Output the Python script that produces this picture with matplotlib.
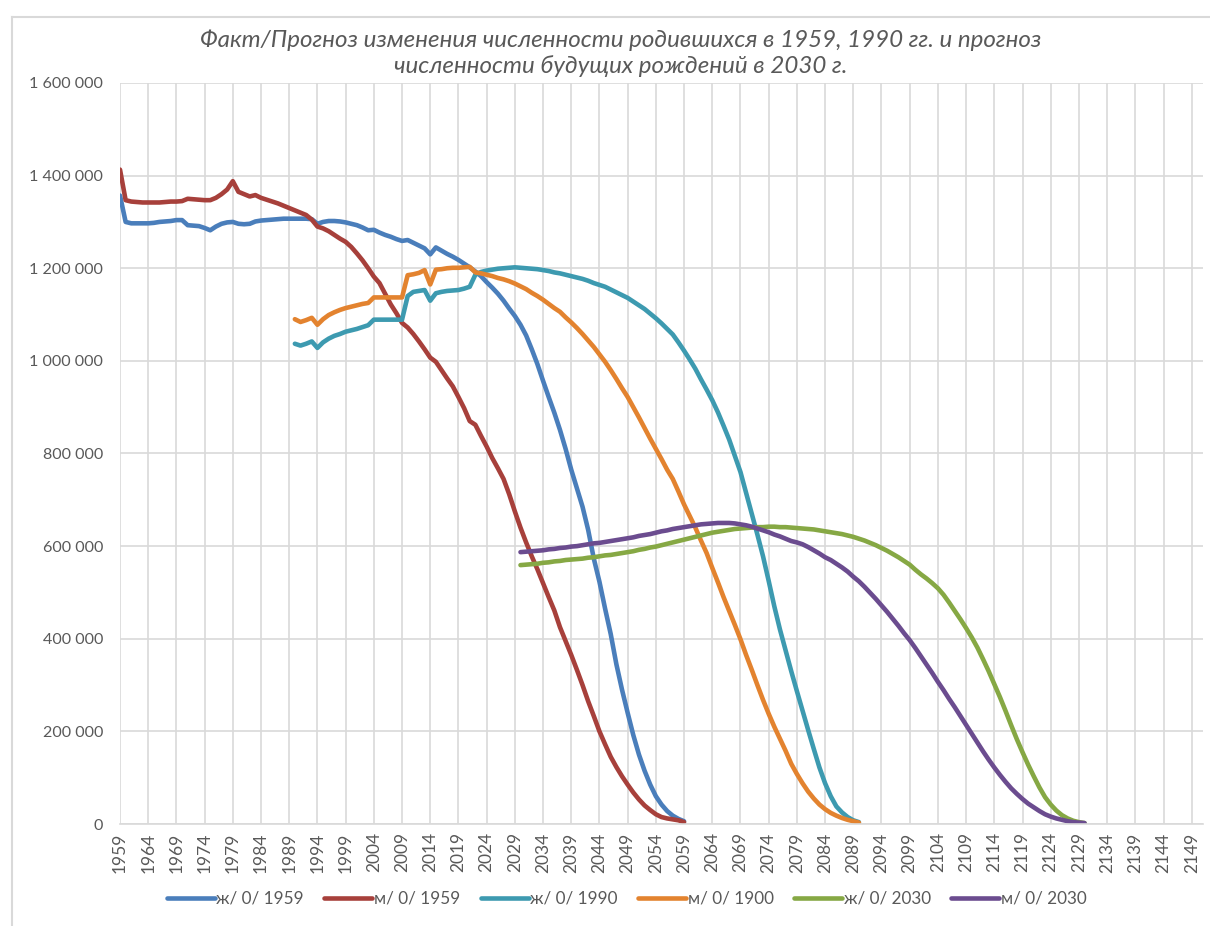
import numpy as np
import matplotlib
matplotlib.use("Agg")
import matplotlib.pyplot as plt
from matplotlib.lines import Line2D
from matplotlib.ticker import FuncFormatter

plt.rcParams['font.family'] = ['Lato', 'DejaVu Sans']

# --- data ---
years_1959 = list(range(1959, 2060))
years_1990 = list(range(1990, 2091))
years_2030 = list(range(2030, 2131))

f_1959 = [1357000, 1300000, 1297000, 1297000, 1297000, 1297000, 1298000, 1300000, 1301000, 1302000,
          1304000, 1304000, 1293000, 1292000, 1291000, 1287000, 1282000, 1290000, 1296000, 1299000,
          1300000, 1296000, 1295000, 1296000, 1301000, 1303000, 1304000, 1305000, 1306000, 1307000,
          1307000, 1307000, 1307000, 1307000, 1306000, 1296000, 1300000, 1302000, 1302000, 1301000,
          1299000, 1296000, 1293000, 1288000, 1282000, 1283000, 1277000, 1272000, 1268000, 1263000,
          1259000, 1261000, 1255000, 1249000, 1243000, 1230000, 1245000, 1238000, 1231000, 1225000,
          1218000, 1210000, 1202000, 1193000, 1183000, 1170000, 1158000, 1145000, 1130000, 1113000,
          1097000, 1078000, 1055000, 1025000, 993000, 957000, 922000, 888000, 851000, 810000,
          765000, 725000, 685000, 635000, 573000, 523000, 465000, 410000, 345000, 290000,
          240000, 192000, 150000, 115000, 85000, 60000, 42000, 28000, 18000, 11000,
          6000]

m_1959 = [1413000, 1347000, 1344000, 1343000, 1342000, 1342000, 1342000, 1342000, 1343000, 1344000,
          1344000, 1345000, 1350000, 1349000, 1348000, 1347000, 1347000, 1352000, 1360000, 1370000,
          1388000, 1365000, 1360000, 1355000, 1358000, 1352000, 1348000, 1344000, 1340000, 1335000,
          1330000, 1325000, 1320000, 1315000, 1305000, 1290000, 1286000, 1280000, 1272000, 1264000,
          1257000, 1246000, 1232000, 1217000, 1200000, 1182000, 1168000, 1145000, 1122000, 1103000,
          1082000, 1072000, 1058000, 1042000, 1025000, 1007000, 998000, 980000, 962000, 945000,
          922000, 898000, 870000, 862000, 838000, 815000, 790000, 768000, 745000, 712000,
          675000, 640000, 608000, 578000, 550000, 520000, 490000, 461000, 425000, 395000,
          365000, 333000, 300000, 265000, 233000, 200000, 172000, 145000, 123000, 103000,
          85000, 68000, 53000, 40000, 30000, 21000, 15000, 12000, 10000, 8000,
          4000]

f_1990 = [1037000, 1033000, 1037000, 1042000, 1028000, 1040000, 1048000, 1054000, 1058000, 1063000,
          1066000, 1069000, 1073000, 1077000, 1089000, 1089000, 1089000, 1089000, 1089000, 1089000,
          1140000, 1149000, 1151000, 1153000, 1130000, 1146000, 1149000, 1151000, 1152000, 1153000,
          1156000, 1160000, 1186000, 1192000, 1195000, 1197000, 1199000, 1200000, 1201000, 1202000,
          1201000, 1200000, 1199000, 1198000, 1196000, 1194000, 1191000, 1189000, 1186000, 1183000,
          1180000, 1177000, 1173000, 1168000, 1164000, 1160000, 1154000, 1148000, 1142000, 1136000,
          1128000, 1120000, 1112000, 1102000, 1092000, 1081000, 1069000, 1057000, 1040000, 1022000,
          1003000, 983000, 960000, 938000, 915000, 889000, 860000, 830000, 795000, 760000,
          715000, 670000, 625000, 578000, 525000, 470000, 420000, 375000, 330000, 287000,
          245000, 203000, 162000, 122000, 88000, 60000, 38000, 25000, 15000, 8000,
          4000]

m_1990 = [1090000, 1084000, 1088000, 1093000, 1078000, 1090000, 1099000, 1105000, 1110000, 1114000,
          1117000, 1120000, 1123000, 1125000, 1137000, 1137000, 1137000, 1137000, 1137000, 1137000,
          1185000, 1187000, 1190000, 1196000, 1165000, 1197000, 1198000, 1200000, 1201000, 1201000,
          1202000, 1203000, 1191000, 1189000, 1186000, 1183000, 1179000, 1176000, 1172000, 1167000,
          1161000, 1155000, 1147000, 1140000, 1132000, 1123000, 1114000, 1106000, 1094000, 1083000,
          1071000, 1058000, 1044000, 1030000, 1014000, 998000, 980000, 961000, 941000, 922000,
          900000, 878000, 855000, 832000, 810000, 788000, 765000, 745000, 718000, 690000,
          665000, 640000, 612000, 585000, 553000, 522000, 490000, 460000, 430000, 399000,
          365000, 333000, 300000, 268000, 238000, 210000, 184000, 158000, 130000, 108000,
          88000, 70000, 55000, 42000, 32000, 24000, 18000, 13000, 9000, 6000,
          3000]

f_2030 = [559000, 560000, 561000, 562000, 564000, 565000, 567000, 568000, 570000, 571000,
          572000, 573000, 575000, 576000, 578000, 580000, 581000, 583000, 585000, 587000,
          589000, 592000, 594000, 597000, 599000, 602000, 605000, 608000, 611000, 614000,
          617000, 620000, 623000, 626000, 629000, 631000, 633000, 635000, 637000, 638000,
          639000, 640000, 641000, 641000, 642000, 642000, 641000, 641000, 640000, 639000,
          638000, 637000, 636000, 634000, 632000, 630000, 628000, 626000, 623000, 620000,
          616000, 612000, 607000, 602000, 596000, 590000, 583000, 576000, 568000, 560000,
          549000, 539000, 530000, 520000, 509000, 495000, 478000, 460000, 442000, 423000,
          403000, 381000, 356000, 330000, 302000, 274000, 244000, 213000, 183000, 155000,
          128000, 103000, 79000, 58000, 42000, 29000, 19000, 12000, 7000, 4000,
          2000]

m_2030 = [587000, 588000, 589000, 590000, 591000, 593000, 594000, 596000, 597000, 599000,
          600000, 602000, 604000, 606000, 607000, 609000, 611000, 613000, 615000, 617000,
          619000, 622000, 624000, 626000, 629000, 632000, 634000, 637000, 639000, 641000,
          643000, 645000, 647000, 648000, 649000, 650000, 650000, 650000, 649000, 647000,
          645000, 642000, 638000, 634000, 630000, 625000, 621000, 616000, 611000, 608000,
          604000, 598000, 591000, 584000, 576000, 570000, 562000, 554000, 545000, 534000,
          524000, 512000, 499000, 486000, 472000, 458000, 443000, 428000, 412000, 397000,
          380000, 362000, 344000, 326000, 307000, 289000, 270000, 252000, 233000, 214000,
          195000, 176000, 157000, 139000, 122000, 106000, 91000, 77000, 65000, 54000,
          44000, 36000, 28000, 21000, 16000, 12000, 9000, 6000, 4000, 3000,
          2000]

labels = ["ж/ 0/ 1959", "м/ 0/ 1959", "ж/ 0/ 1990", "м/ 0/ 1900", "ж/ 0/ 2030", "м/ 0/ 2030"]
colors = ['#4A7EBB', '#A7403B', '#3D9AB0', '#E3832F', '#86A844', '#6B4C8F']

title = ("Факт/Прогноз изменения численности родившихся в 1959, 1990 гг. и прогноз\n"
         "численности будущих рождений в 2030 г.")

# --- figure ---
fig = plt.figure(figsize=(12.1, 9.26), dpi=100)
ax = fig.add_axes([120/1210, 1 - 824/926, (1203 - 120)/1210, (824 - 83)/926])

series = [(years_1959, f_1959), (years_1959, m_1959),
          (years_1990, f_1990), (years_1990, m_1990),
          (years_2030, f_2030), (years_2030, m_2030)]
for (x, y), lab, c in zip(series, labels, colors):
    ax.plot(x, y, color=c, lw=3.3, label=lab, solid_capstyle='round', solid_joinstyle='round')

ax.set_xlim(1959, 2151)
ax.set_ylim(0, 1600000)
ax.set_xticks(range(1959, 2150, 5))
ax.set_yticks(range(0, 1600001, 200000))
ax.yaxis.set_major_formatter(FuncFormatter(lambda v, p: f"{int(v):,}".replace(",", " ")))
ax.tick_params(axis='x', rotation=90, length=0, pad=6, labelsize=12.5, colors='#595959')
ax.tick_params(axis='y', length=0, pad=12, labelsize=11.6, colors='#595959')
ax.grid(True, color='#d9d9d9', lw=1.2)
ax.set_axisbelow(True)
for s in ['top', 'right', 'left']:
    ax.spines[s].set_visible(False)
ax.spines['bottom'].set_color('#d9d9d9')
ax.spines['bottom'].set_linewidth(1.2)

fig.text(0.513, 1 - 53/926, title, ha='center', va='center', fontsize=17.4,
         style='italic', color='#595959', linespacing=1.25)

fig.legend(loc='center', bbox_to_anchor=(0.518, 1 - 899/926), ncol=6, frameon=False,
           fontsize=12.3, labelcolor='#595959', handlelength=2.8, handletextpad=0.1,
           columnspacing=1.2)

# chart border (left and top edges visible)
fig.add_artist(Line2D([12/1210, 12/1210], [0, 1 - 17/926], color='#d9d9d9', lw=1.5))
fig.add_artist(Line2D([12/1210, 1], [1 - 17/926, 1 - 17/926], color='#d9d9d9', lw=1.5))

fig.savefig("out.png", dpi=100)
